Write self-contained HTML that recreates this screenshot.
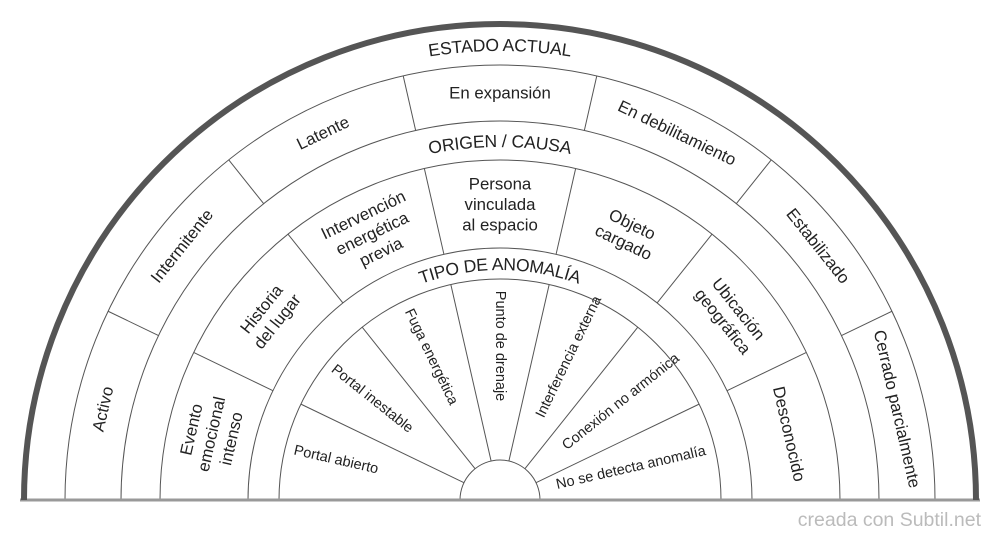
<!DOCTYPE html>
<html><head><meta charset="utf-8"><style>
html,body{margin:0;padding:0;background:#fff;}
svg{display:block;font-family:"Liberation Sans",Arial,sans-serif;}
</style></head><body>
<svg width="1000" height="540" viewBox="0 0 1000 540" xmlns="http://www.w3.org/2000/svg">
<defs>
<path id="a1" d="M45,500 A455,455 0 0 1 955,500"/>
<path id="a2" d="M141,500 A359,359 0 0 1 859,500"/>
<path id="a3" d="M264,500 A236,236 0 0 1 736,500"/>
</defs>
<g fill="none" stroke="#555" stroke-width="1">
<path d="M65,500 A435,435 0 0 1 935,500"/>
<path d="M121,500 A379,379 0 0 1 879,500"/>
<path d="M160,500 A340,340 0 0 1 840,500"/>
<path d="M248,500 A252,252 0 0 1 752,500"/>
<path d="M279,500 A221,221 0 0 1 721,500"/>
<path d="M460,500 A40,40 0 0 1 540,500"/>
</g>
<g stroke="#555" stroke-width="1">
<g id="d1">
<line x1="879" y1="500" x2="935" y2="500"/>
<line x1="752" y1="500" x2="840" y2="500"/>
<line x1="540" y1="500" x2="721" y2="500"/>
</g>
<use href="#d1" transform="rotate(-25.714 500 500)"/>
<use href="#d1" transform="rotate(-51.429 500 500)"/>
<use href="#d1" transform="rotate(-77.143 500 500)"/>
<use href="#d1" transform="rotate(-102.857 500 500)"/>
<use href="#d1" transform="rotate(-128.571 500 500)"/>
<use href="#d1" transform="rotate(-154.286 500 500)"/>
</g>
<line x1="20" y1="500" x2="980" y2="500" stroke="#999" stroke-width="3"/>
<path d="M24,500 A476,476 0 0 1 976,500" fill="none" stroke="#555" stroke-width="6"/>
<g fill="#222" font-size="17.5" text-anchor="middle">
<text dominant-baseline="central"><textPath href="#a1" startOffset="50%">ESTADO ACTUAL</textPath></text>
<text dominant-baseline="central"><textPath href="#a2" startOffset="50%">ORIGEN / CAUSA</textPath></text>
<text dominant-baseline="central"><textPath href="#a3" startOffset="50%">TIPO DE ANOMALÍA</textPath></text>
</g>
<g fill="#222" font-size="16.8" text-anchor="middle" dominant-baseline="central">
<text transform="translate(103,409) rotate(-77.14)">Activo</text>
<text transform="translate(182,246) rotate(-51.43)">Intermitente</text>
<text transform="translate(323,133) rotate(-25.71)">Latente</text>
<text transform="translate(500,93)">En expansión</text>
<text transform="translate(677,133) rotate(25.71)">En debilitamiento</text>
<text transform="translate(818,246) rotate(51.43)">Estabilizado</text>
<text transform="translate(897,409) rotate(77.14)">Cerrado parcialmente</text>

<text transform="translate(211,434) rotate(-77.14)"><tspan x="0" y="-20.5">Evento</tspan><tspan x="0" y="0">emocional</tspan><tspan x="0" y="20.5">intenso</tspan></text>
<text transform="translate(269,315) rotate(-51.43)"><tspan x="0" y="-10">Historia</tspan><tspan x="0" y="10">del lugar</tspan></text>
<text transform="translate(372,233) rotate(-25.71)"><tspan x="0" y="-20.5">Intervención</tspan><tspan x="0" y="0">energética</tspan><tspan x="0" y="20.5">previa</tspan></text>
<text transform="translate(500,204)"><tspan x="0" y="-20.5">Persona</tspan><tspan x="0" y="0">vinculada</tspan><tspan x="0" y="20.5">al espacio</tspan></text>
<text transform="translate(628,233) rotate(25.71)"><tspan x="0" y="-10">Objeto</tspan><tspan x="0" y="10">cargado</tspan></text>
<text transform="translate(731,315) rotate(51.43)"><tspan x="0" y="-10">Ubicación</tspan><tspan x="0" y="10">geográfica</tspan></text>
<text transform="translate(789,434) rotate(77.14)">Desconocido</text>
</g>
<g fill="#222" font-size="14.5" text-anchor="middle" dominant-baseline="central">
<text transform="translate(336,460) rotate(12.86)">Portal abierto</text>
<text transform="translate(372,399) rotate(38.57)">Portal inestable</text>
<text transform="translate(431,357) rotate(64.29)">Fuga energética</text>
<text transform="translate(500,346) rotate(90)">Punto de drenaje</text>
<text transform="translate(569,357) rotate(-64.29)">Interferencia externa</text>
<text transform="translate(621,402) rotate(-38.57)">Conexión no armónica</text>
<text transform="translate(631,468) rotate(-12.86)">No se detecta anomalía</text>
</g>
<text x="981" y="526" font-size="19.5" fill="#bbb" text-anchor="end">creada con Subtil.net</text>
</svg>
</body></html>
